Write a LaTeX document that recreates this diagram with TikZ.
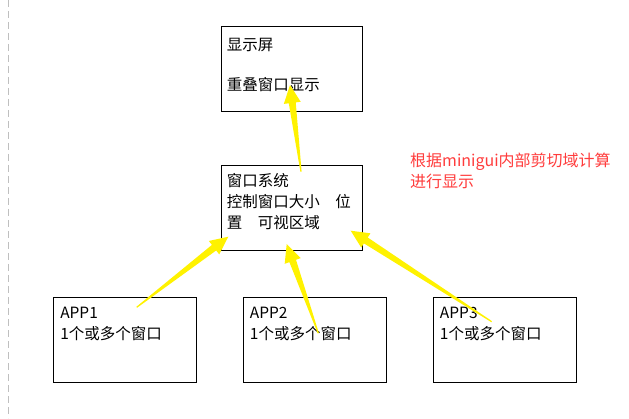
\documentclass[tikz,border=0pt]{standalone}
\usepackage{fontspec}
\newfontfamily\cjk{Noto Sans CJK SC}
\usetikzlibrary{calc}
\definecolor{notered}{RGB}{255,60,60}
% tapered yellow arrow from #1 to #2
\newcommand\fatarrow[2]{%
  \fill[arrowfill] ($(#1)!0.6pt!90:(#2)$)
    -- ($(#2)!18pt!(#1)!3.5pt!90:(#2)$)
    -- ($(#2)!18pt!(#1)!8.5pt!90:(#2)$)
    -- (#2)
    -- ($(#2)!18pt!(#1)!8.5pt!-90:(#2)$)
    -- ($(#2)!18pt!(#1)!3.5pt!-90:(#2)$)
    -- ($(#1)!0.6pt!-90:(#2)$) -- cycle;}
\begin{document}
\begin{tikzpicture}[x=1pt, y=1pt,
    box/.style={draw, line width=0.9pt, anchor=north west, inner xsep=5pt, inner ysep=6.3pt,
      minimum width=#1, minimum height=85pt, font=\cjk\fontsize{15.5}{21}\selectfont},
    arrowfill/.style={fill=yellow}]
  \useasboundingbox (0,0) rectangle (629,418);
  \draw[black!25, dash pattern=on 7pt off 4pt] (8.5,418) -- (8.5,0);

  % Nodes
  \node[box=141.3pt] (screen) at (220.7,392)
    {\parbox[t][72.4pt][t]{130pt}{\rule{0pt}{17.4pt}显示屏\\[19pt]重叠窗口显示}};
  \node[box=141.3pt] (winsys) at (220.7,253.3)
    {\parbox[t][72.4pt][t]{130pt}{\strut 窗口系统\\控制窗口大小\hspace{1em}位\\置\hspace{1em}可视区域}};
  \node[box=143pt] (app1) at (53.3,121)
    {\parbox[t][72.4pt][t]{130pt}{\strut APP1\\1个或多个窗口}};
  \node[box=143pt] (app2) at (243,121)
    {\parbox[t][72.4pt][t]{130pt}{\strut APP2\\1个或多个窗口}};
  \node[box=143pt] (app3) at (433,121)
    {\parbox[t][72.4pt][t]{130pt}{\strut APP3\\1个或多个窗口}};
  \node[anchor=north west, inner sep=0pt, align=left, text=notered,
    font=\cjk\fontsize{16}{21}\selectfont] (note) at (410,265.5)
    {根据minigui内部剪切域计算\\进行显示};

  % arrow ends
  \coordinate (up tail) at (301,246.3);
  \coordinate (up tip) at (290,333);
  \coordinate (a1 tail) at (136.7,110.7);
  \coordinate (a1 tip) at (228.3,181.3);
  \coordinate (a2 tail) at (318.3,84.7);
  \coordinate (a2 tip) at (286.7,174);
  \coordinate (a3 tail) at (491.7,96.3);
  \coordinate (a3 tip) at (350.7,187.3);

  % Edges
  \fatarrow{up tail}{up tip}
  \fatarrow{a1 tail}{a1 tip}
  \fatarrow{a2 tail}{a2 tip}
  \fatarrow{a3 tail}{a3 tip}
\end{tikzpicture}
\end{document}
